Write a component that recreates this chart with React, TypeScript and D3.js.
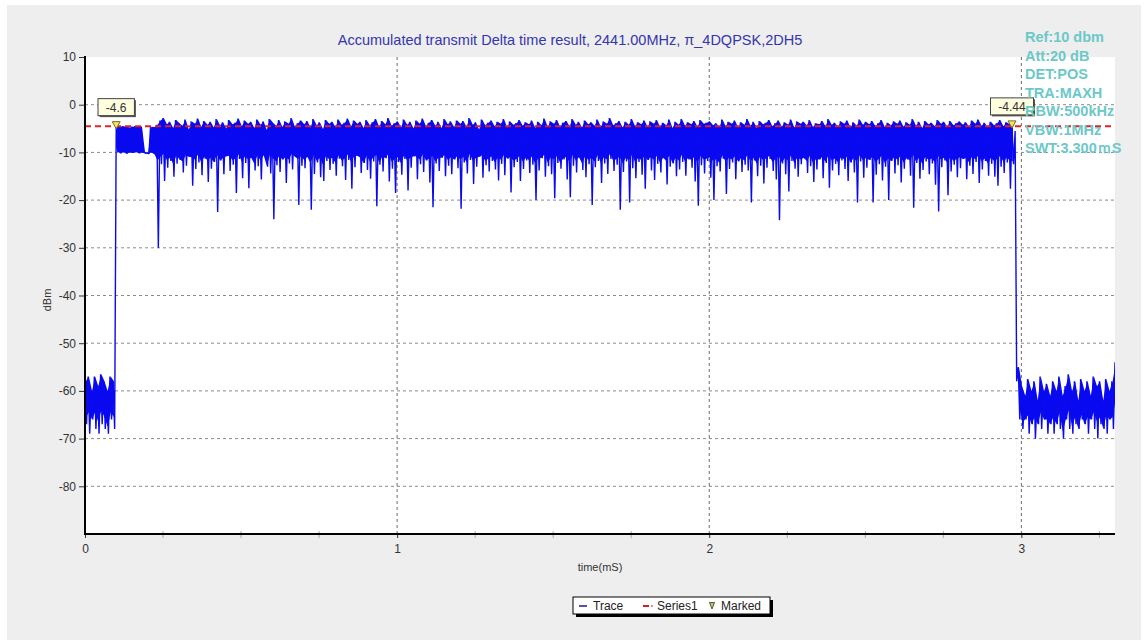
import React, { useEffect, useRef } from 'react';
import * as d3 from 'd3';

const WIDTH = 1146;
const HEIGHT = 643;

const TITLE = 'Accumulated transmit Delta time result, 2441.00MHz, π_4DQPSK,2DH5';
const infoLines = ['Ref:10 dbm', 'Att:20 dB', 'DET:POS', 'TRA:MAXH', 'RBW:500kHz', 'VBW:1MHz', 'SWT:3.300ｍS'];

const yTicks = [10, 0, -10, -20, -30, -40, -50, -60, -70, -80];
const yGrid = [0, -10, -20, -30, -40, -50, -60, -70, -80];
const xTicks = [0, 1, 2, 3];
const xMinorTicks = [0.25, 0.5, 0.75, 1.25, 1.5, 1.75, 2.25, 2.5, 2.75, 3.25];

const series1Level = -4.5;
const markers = [
  { t: 0.1, v: -4.6, label: '-4.6' },
  { t: 2.97, v: -4.44, label: '-4.44' },
];

// trace, one peak / one dip per 0.01 mS
const sampleStep = 0.01;
const traceHigh = [
  -58, -57, -60, -57, -59, -56.5, -58, -60, -57, -58,
  -4.6, -4.7, -4.5, -4.6, -4.8, -4.6, -4.5, -4.7, -4.6, -10.0,
  -10.1, -4.6, -4.7, -4.2, -3.3, -2.8, -4.1, -3.6, -4.9, -3.2,
  -3.9, -4.4, -3.1, -5.2, -3.5, -4.0, -2.9, -4.6, -3.4, -4.2,
  -3.6, -4.8, -3.0, -4.3, -3.7, -5.0, -3.2, -4.1, -3.8, -2.9,
  -4.5, -3.3, -4.0, -3.6, -4.9, -3.1, -4.2, -3.5, -5.3, -3.0,
  -3.8, -4.4, -3.2, -4.7, -3.5, -4.0, -2.8, -4.6, -3.9, -3.3,
  -4.1, -3.4, -4.8, -3.0, -4.3, -3.7, -5.1, -3.2, -4.0, -3.6,
  -4.7, -3.1, -4.2, -3.8, -2.9, -4.5, -3.3, -4.0, -3.6, -4.9,
  -3.2, -4.3, -3.7, -3.0, -4.6, -3.4, -4.1, -2.8, -4.4, -3.9,
  -3.5, -4.8, -3.1, -4.2, -3.6, -5.0, -3.3, -4.0, -2.9, -4.5,
  -3.8, -3.2, -4.4, -3.6, -4.9, -3.0, -4.1, -3.5, -4.7, -3.3,
  -4.0, -3.4, -4.6, -2.8, -4.2, -3.7, -5.2, -3.1, -4.3, -3.8,
  -3.3, -4.5, -3.6, -4.0, -3.0, -4.8, -3.5, -4.2, -3.9, -3.2,
  -4.4, -3.7, -4.1, -3.3, -4.9, -3.6, -4.3, -2.9, -4.6, -3.5,
  -4.0, -3.2, -4.7, -3.8, -3.4, -4.5, -3.0, -4.2, -3.6, -4.8,
  -3.3, -4.1, -3.7, -4.4, -3.1, -4.6, -3.5, -4.0, -2.8, -4.3,
  -3.9, -3.4, -4.8, -3.6, -4.2, -3.0, -4.5, -3.7, -4.1, -3.3,
  -4.6, -3.5, -4.0, -3.2, -4.7, -3.8, -4.3, -3.1, -4.9, -3.6,
  -4.2, -3.0, -4.4, -3.7, -4.1, -3.4, -4.6, -3.2, -4.0, -3.8,
  -3.5, -4.3, -3.9, -4.7, -3.1, -4.5, -3.6, -4.0, -3.3, -4.8,
  -3.7, -4.2, -3.0, -4.4, -3.6, -4.9, -3.4, -4.1, -3.8, -3.2,
  -4.5, -3.9, -3.3, -4.6, -3.7, -4.2, -3.1, -4.8, -3.5, -4.0,
  -3.6, -4.3, -3.2, -4.7, -3.9, -4.1, -3.4, -4.5, -3.0, -4.2,
  -3.8, -4.6, -3.5, -4.0, -3.3, -4.8, -3.7, -4.4, -3.1, -4.2,
  -3.6, -4.1, -3.4, -4.5, -3.9, -3.2, -4.7, -3.8, -4.3, -3.5,
  -4.0, -3.3, -4.6, -3.7, -4.2, -3.0, -4.4, -3.6, -4.9, -3.4,
  -4.1, -3.8, -4.5, -3.2, -4.0, -3.6, -4.7, -3.4, -4.3, -3.9,
  -3.5, -4.2, -3.7, -4.6, -3.3, -4.0, -3.1, -4.4, -3.8, -4.8,
  -3.6, -4.3, -3.9, -3.2, -4.5, -3.7, -4.1, -4.4, -5.5, -55,
  -59, -61, -57.5, -60, -58, -62, -57, -60, -58.5, -61,
  -58, -60, -57, -61, -59, -56.5, -60, -58, -62, -57.5,
  -60, -58, -61, -57, -59, -58, -62, -57.5, -60, -58, -54,
];
const traceLow = [
  -67, -69, -66, -68, -69, -67, -68, -69, -66, -68,
  -9.8, -10.2, -9.9, -10.3, -10.0, -10.1, -9.9, -10.2, -10.0, -10.2,
  -10.3, -10.0, -10.4, -30, -12.5, -16, -13.2, -11.8, -15.1, -12.4,
  -11.6, -14.2, -12.8, -10.9, -17, -13.5, -12.1, -14.8, -11.3, -16.2,
  -13.4, -12.0, -22.5, -11.7, -14.6, -10.8, -13.9, -12.6, -18.5, -11.4,
  -15.4, -12.2, -17.5, -11.1, -13.8, -12.9, -15.7, -10.6, -13.0, -14.4,
  -24, -12.7, -14.1, -11.5, -16.4, -12.3, -13.6, -10.9, -21, -12.8,
  -13.3, -11.0, -22, -14.5, -12.1, -15.2, -16, -11.8, -13.7, -12.4,
  -14.9, -11.3, -12.9, -15.8, -11.6, -17.6, -13.1, -10.7, -14.3, -12.2,
  -13.7, -15.5, -11.9, -21.3, -12.6, -14.0, -11.2, -16.1, -13.4, -18.5,
  -12.0, -14.7, -11.4, -18, -13.2, -10.8, -15.6, -12.5, -14.1, -11.7,
  -16.3, -21.5, -12.3, -13.9, -11.1, -15.0, -12.8, -14.6, -11.5, -13.3,
  -21.8, -12.1, -14.4, -11.6, -16.6, -13.0, -10.9, -15.3, -12.7, -14.0,
  -11.8, -13.6, -15.9, -12.4, -14.8, -11.3, -18.4, -13.1, -12.0, -16.0,
  -13.5, -11.7, -14.3, -12.6, -20, -13.8, -11.2, -15.1, -12.9, -14.6,
  -19.6, -12.2, -13.4, -11.5, -15.7, -19.4, -12.8, -14.2, -11.0, -13.7,
  -15.2, -12.5, -21, -13.1, -11.8, -16.4, -12.3, -14.5, -11.4, -13.9,
  -12.6, -22, -14.1, -11.9, -20.5, -13.3, -15.4, -12.0, -14.7, -17.6,
  -11.6, -13.8, -15.8, -12.4, -14.2, -11.1, -16.7, -13.0, -12.3, -15.0,
  -13.6, -12.0, -14.9, -11.5, -13.2, -16.1, -21.2, -12.7, -14.4, -11.8,
  -15.3, -20, -12.9, -14.0, -11.3, -18.7, -13.5, -12.1, -15.6, -11.9,
  -14.1, -12.6, -13.8, -20.5, -11.7, -15.0, -12.8, -16.5, -13.2, -11.4,
  -13.9, -15.7, -24.2, -12.3, -14.6, -18.2, -11.8, -13.4, -15.1, -12.5,
  -11.2, -14.3, -12.9, -16.2, -13.6, -11.5, -15.4, -12.2, -17.4, -13.8,
  -12.4, -14.8, -11.7, -13.5, -16.0, -12.1, -14.2, -20.5, -11.9, -15.3,
  -13.2, -11.6, -20.5, -14.7, -12.5, -15.9, -13.0, -20, -11.8, -14.4,
  -12.7, -16.3, -13.4, -11.5, -14.9, -21.6, -12.2, -15.5, -13.7, -11.9,
  -14.6, -12.3, -16.8, -22.4, -13.1, -11.7, -19, -14.0, -12.6, -15.2,
  -13.3, -11.4, -15.6, -12.8, -14.5, -12.0, -16.4, -13.6, -11.8, -14.9,
  -12.4, -15.1, -17, -13.0, -14.3, -12.1, -17.6, -12.5, -58, -66,
  -68, -66, -69, -67, -70, -67, -68, -66, -69, -67,
  -69, -67, -68, -70, -66, -68, -69, -67, -68, -66,
  -67, -69, -66, -68, -70, -67, -68, -69, -66, -68, -63,
];
// index ranges of the trace that read as a solid band (noise floor, burst, noise floor)
const bandRanges = [[0, 9], [10, 297], [299, 330]];
const bandDepth = 7.5;

const FONT = '"Liberation Sans", Arial, sans-serif';

const App: React.FC = () => {
  const svgRef = useRef<SVGSVGElement>(null);

  useEffect(() => {
    if (!svgRef.current) return;
    const svg = d3.select(svgRef.current);
    svg.selectAll('*').remove();

    const x = d3.scaleLinear().domain([0, 3.3]).range([85, 1115]);
    const y = d3.scaleLinear().domain([-90, 10]).range([534, 57]);
    const [x0, x1] = x.range();
    const [yb, yt] = y.range();

    // backgrounds
    svg.append('rect').attr('width', WIDTH).attr('height', HEIGHT).attr('fill', '#ffffff');
    svg.append('rect').attr('x', 7).attr('y', 5).attr('width', 1134).attr('height', 635).attr('fill', '#eeeeee');
    svg.append('rect').attr('x', x0).attr('y', yt).attr('width', x1 - x0).attr('height', yb - yt).attr('fill', '#ffffff');

    svg.append('defs').append('clipPath').attr('id', 'plot-clip')
      .append('rect').attr('x', x0).attr('y', yt).attr('width', x1 - x0).attr('height', yb - yt);

    // grid
    svg.append('g').selectAll('line').data(yGrid).enter().append('line')
      .attr('x1', x0).attr('x2', x1)
      .attr('y1', d => y(d)).attr('y2', d => y(d))
      .attr('stroke', '#8a8a8a').attr('stroke-width', 1).attr('stroke-dasharray', '3,3');
    svg.append('g').selectAll('line').data(xTicks.filter(d => d > 0)).enter().append('line')
      .attr('x1', d => x(d)).attr('x2', d => x(d))
      .attr('y1', yt).attr('y2', yb)
      .attr('stroke', '#6a6a6a').attr('stroke-width', 1).attr('stroke-dasharray', '3,3');

    const traceG = svg.append('g').attr('clip-path', 'url(#plot-clip)');

    // solid core of the trace
    const area = d3.area<number>()
      .x(i => x(i * sampleStep + sampleStep / 4))
      .y0(i => y(Math.max(traceLow[i], traceHigh[i] - bandDepth)))
      .y1(i => y(traceHigh[i]));
    bandRanges.forEach(([a, b]) => {
      traceG.append('path')
        .attr('d', area(d3.range(a, b + 1)) || '')
        .attr('fill', '#0a0af2');
    });

    // trace: zig-zag between peak and dip of each sample
    const pts: [number, number][] = [];
    traceHigh.forEach((h, i) => {
      pts.push([i * sampleStep, h]);
      pts.push([i * sampleStep + sampleStep / 2, traceLow[i]]);
    });
    const line = d3.line<[number, number]>().x(d => x(d[0])).y(d => y(d[1]));
    traceG.append('path')
      .attr('d', line(pts) || '')
      .attr('fill', 'none')
      .attr('stroke', '#0a0af0')
      .attr('stroke-width', 1.4)
      .attr('stroke-linejoin', 'bevel');

    // Series1 level
    svg.append('line')
      .attr('x1', x0).attr('x2', x1)
      .attr('y1', y(series1Level)).attr('y2', y(series1Level))
      .attr('stroke', '#e02424').attr('stroke-width', 2).attr('stroke-dasharray', '6,4');

    // axes
    const yAxis = svg.append('g').attr('transform', `translate(${x0},0)`)
      .call(d3.axisLeft(y).tickValues(yTicks).tickSize(6).tickSizeOuter(0).tickFormat(d => `${d}`));
    yAxis.select('.domain').remove();
    yAxis.selectAll('line').attr('stroke', '#333');
    yAxis.selectAll('text').attr('font-family', FONT).attr('font-size', 12).attr('fill', '#333').attr('x', -9);

    const xAxis = svg.append('g').attr('transform', `translate(0,${yb})`)
      .call(d3.axisBottom(x).tickValues(xTicks).tickSize(4).tickSizeOuter(0).tickFormat(d => `${d}`));
    xAxis.select('.domain').remove();
    xAxis.selectAll('line').attr('stroke', '#333');
    xAxis.selectAll('text').attr('font-family', FONT).attr('font-size', 12).attr('fill', '#333').attr('y', 10);

    svg.append('g').selectAll('line').data(xMinorTicks).enter().append('line')
      .attr('x1', d => x(d)).attr('x2', d => x(d))
      .attr('y1', yb - 3).attr('y2', yb + 4)
      .attr('stroke', '#aaa').attr('stroke-width', 1);

    svg.append('line').attr('x1', x0).attr('x2', x0).attr('y1', yt - 1).attr('y2', yb + 1)
      .attr('stroke', '#000').attr('stroke-width', 2);
    svg.append('line').attr('x1', x0 - 1).attr('x2', x1).attr('y1', yb).attr('y2', yb)
      .attr('stroke', '#000').attr('stroke-width', 2);

    // markers
    const mk = svg.append('g');
    markers.forEach(m => {
      const mx = x(m.t);
      const my = y(m.v);
      mk.append('path')
        .attr('d', `M${mx - 4},${my - 5}L${mx + 4},${my - 5}L${mx},${my + 2}Z`)
        .attr('fill', '#f2e65a').attr('stroke', '#7a6a20').attr('stroke-width', 1);
      const w = m.label.length * 6.6 + 10;
      const bx = mx - w / 2;
      const by = my - 28;
      mk.append('rect').attr('x', bx + 1.5).attr('y', by + 1.5).attr('width', w).attr('height', 17).attr('fill', '#555');
      mk.append('rect').attr('x', bx).attr('y', by).attr('width', w).attr('height', 17)
        .attr('fill', '#ffffe0').attr('stroke', '#444').attr('stroke-width', 1);
      mk.append('text').attr('x', mx).attr('y', by + 13).attr('text-anchor', 'middle')
        .attr('font-family', FONT).attr('font-size', 12).attr('fill', '#333').text(m.label);
    });

    // titles
    svg.append('text').attr('x', 570).attr('y', 45).attr('text-anchor', 'middle')
      .attr('font-family', FONT).attr('font-size', 14.5).attr('fill', '#3535b0').text(TITLE);
    svg.append('text').attr('x', 600).attr('y', 571).attr('text-anchor', 'middle')
      .attr('font-family', FONT).attr('font-size', 11).attr('fill', '#333').text('time(mS)');
    svg.append('text').attr('transform', 'translate(51,300) rotate(-90)').attr('text-anchor', 'middle')
      .attr('font-family', FONT).attr('font-size', 11).attr('fill', '#333').text('dBm');

    // instrument settings
    svg.append('g').selectAll('text').data(infoLines).enter().append('text')
      .attr('x', 1025).attr('y', (_, i) => 42 + i * 18.5)
      .attr('font-family', FONT).attr('font-size', 14.5).attr('font-weight', 'bold')
      .attr('fill', '#6cc8c8').text(d => d);

    // legend
    const lg = svg.append('g').attr('transform', 'translate(573,597)');
    lg.append('rect').attr('x', 3).attr('y', 3).attr('width', 197).attr('height', 17).attr('fill', '#000');
    lg.append('rect').attr('width', 197).attr('height', 17).attr('fill', '#fff').attr('stroke', '#000').attr('stroke-width', 1);
    lg.append('line').attr('x1', 6).attr('x2', 14).attr('y1', 9).attr('y2', 9).attr('stroke', '#1a1a80').attr('stroke-width', 1.5);
    lg.append('text').attr('x', 20).attr('y', 13).attr('font-family', FONT).attr('font-size', 12).attr('fill', '#222').text('Trace');
    lg.append('line').attr('x1', 70).attr('x2', 76).attr('y1', 9).attr('y2', 9).attr('stroke', '#d02020').attr('stroke-width', 2);
    lg.append('line').attr('x1', 78).attr('x2', 80).attr('y1', 9).attr('y2', 9).attr('stroke', '#d02020').attr('stroke-width', 1);
    lg.append('text').attr('x', 84).attr('y', 13).attr('font-family', FONT).attr('font-size', 12).attr('fill', '#222').text('Series1');
    lg.append('path').attr('d', 'M136.5,5.5L141.5,5.5L139,12Z').attr('fill', '#c8c070').attr('stroke', '#555a30').attr('stroke-width', 1);
    lg.append('text').attr('x', 148).attr('y', 13).attr('font-family', FONT).attr('font-size', 12).attr('fill', '#222').text('Marked');
  }, []);

  return (
    <svg
      ref={svgRef}
      width={WIDTH}
      height={HEIGHT}
      viewBox={`0 0 ${WIDTH} ${HEIGHT}`}
      style={{ position: 'absolute', left: 0, top: 0, display: 'block' }}
    />
  );
};

export default App;
